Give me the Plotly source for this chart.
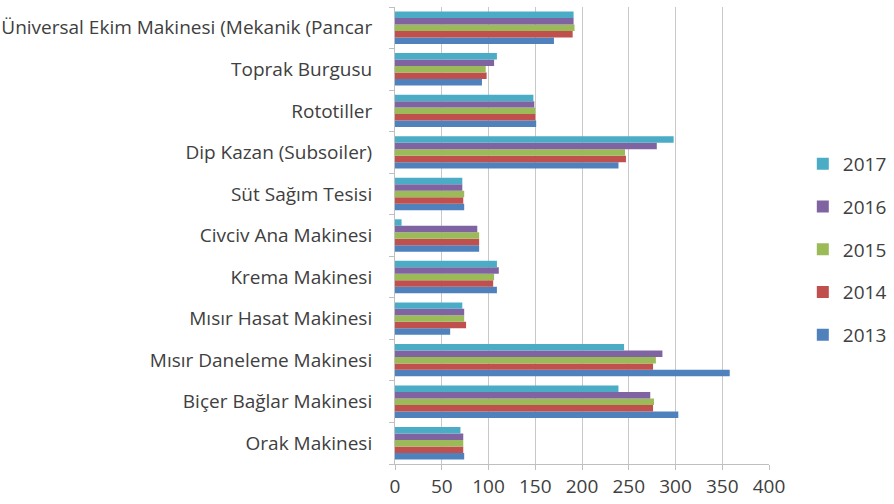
import plotly.graph_objects as go

categories = [
    "Orak Makinesi",
    "Biçer Bağlar Makinesi",
    "Mısır Daneleme Makinesi",
    "Mısır Hasat Makinesi",
    "Krema Makinesi",
    "Civciv Ana Makinesi",
    "Süt Sağım Tesisi",
    "Dip Kazan (Subsoiler)",
    "Rototiller",
    "Toprak Burgusu",
    "Üniversal Ekim Makinesi (Mekanik (Pancar",
]

y2013 = [74, 303, 358, 59, 109, 90, 74, 239, 151, 93, 170]
y2014 = [73, 276, 276, 76, 105, 90, 73, 247, 150, 98, 190]
y2015 = [73, 277, 279, 74, 106, 90, 74, 246, 150, 97, 192]
y2016 = [73, 273, 286, 74, 111, 88, 72, 280, 149, 106, 191]
y2017 = [70, 239, 245, 72, 109, 7, 72, 298, 148, 109, 191]

years = ["2013", "2014", "2015", "2016", "2017"]
series = [y2013, y2014, y2015, y2016, y2017]
colors = ["#4F81BD", "#C0504D", "#9BBB59", "#8064A2", "#4BACC6"]

fig = go.Figure()
for i, (name, vals, col) in enumerate(zip(years, series, colors)):
    fig.add_trace(go.Bar(
        y=categories, x=vals, name=name, orientation="h",
        marker=dict(color=col, line=dict(width=0)),
        legendgroup=name,
        legendrank=1000 - i,  # newest year on top of the legend
    ))

fig.update_layout(
    barmode="group",
    bargap=0.22,
    bargroupgap=0,
    width=894, height=504,
    margin=dict(l=395, r=125, t=7, b=40),
    paper_bgcolor="white",
    plot_bgcolor="white",
    font=dict(family="Open Sans", size=19, color="#404040"),
    legend=dict(
        traceorder="grouped",
        xref="container", yref="container",
        x=0.898, y=0.505, xanchor="left", yanchor="middle",
        tracegroupgap=15,
        font=dict(size=19, color="#404040"),
        bgcolor="rgba(0,0,0,0)",
    ),
    xaxis=dict(
        range=[0, 400], dtick=50, tick0=0,
        showgrid=True, gridcolor="#c8c8c8", gridwidth=1,
        zeroline=False,
        showline=True, linecolor="#bfbfbf", linewidth=1,
        ticks="outside", ticklen=5, tickcolor="#bfbfbf",
        tickfont=dict(size=19, color="#404040"),
        automargin=False,
    ),
    yaxis=dict(
        showline=True, linecolor="#bfbfbf", linewidth=1,
        ticks="outside", ticklen=5, tickcolor="#bfbfbf",
        tickson="boundaries",
        showgrid=False,
        tickfont=dict(size=19, color="#404040"),
        ticklabelstandoff=18,
        automargin=False,
    ),
)

# page has a default 8px body margin; drop it so the figure sits at 0,0
fig.write_html("out.html", config={"displayModeBar": False},
               post_script="document.body.style.margin='0';")
